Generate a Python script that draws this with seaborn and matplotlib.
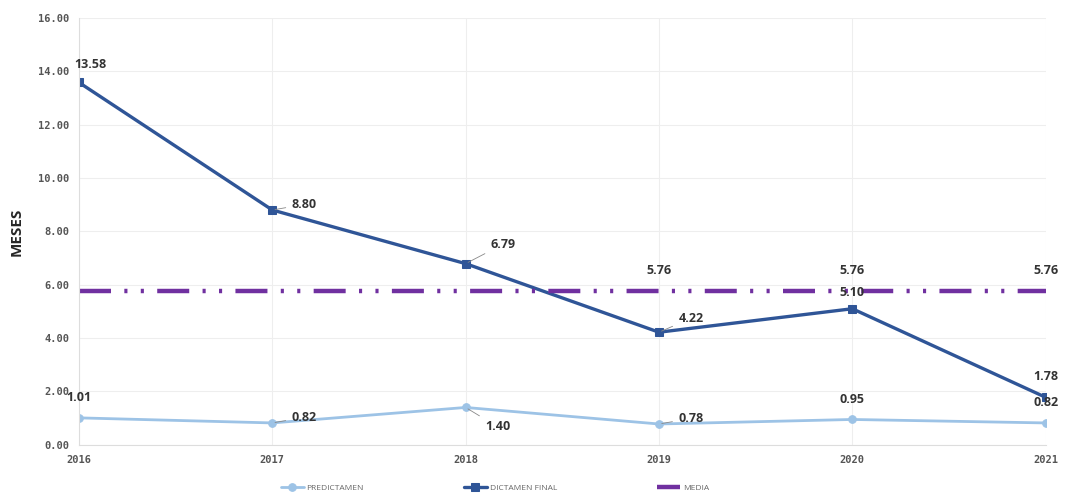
import numpy as np
import pandas as pd
import seaborn as sns
import matplotlib.pyplot as plt

years = [2016, 2017, 2018, 2019, 2020, 2021]
predictamen = [1.01, 0.82, 1.40, 0.78, 0.95, 0.82]
dictamen_final = [13.58, 8.80, 6.79, 4.22, 5.10, 1.78]
media = [5.76, 5.76, 5.76, 5.76, 5.76, 5.76]
y_ticks = [0, 2, 4, 6, 8, 10, 12, 14, 16]

c_pre = "#9DC3E6"
c_dic = "#2F5597"
c_med = "#7030A0"

df = pd.DataFrame({"year": years, "PREDICTAMEN": predictamen,
                   "DICTAMEN FINAL": dictamen_final, "MEDIA": media})

sns.set_style("white")
fig = plt.figure(figsize=(10.67, 4.97), dpi=100)
ax = fig.add_axes([0.074, 0.105, 0.906, 0.859])

sns.lineplot(data=df, x="year", y="PREDICTAMEN", ax=ax, color=c_pre, lw=2.0,
             marker="o", markersize=5.5, markeredgecolor=c_pre, label="PREDICTAMEN")
sns.lineplot(data=df, x="year", y="DICTAMEN FINAL", ax=ax, color=c_dic, lw=2.4,
             marker="s", markersize=5.5, markeredgecolor=c_dic, label="DICTAMEN FINAL")
sns.lineplot(data=df, x="year", y="MEDIA", ax=ax, color=c_med, lw=3.2,
             label="MEDIA")
# dash - dot - dot, in units of line width
ax.lines[-1].set_dashes([7.2, 3.0, 0.7, 3.0, 0.7, 3.0])

ax.set_xlim(years[0], years[-1])
ax.set_ylim(0, 16)
ax.set_yticks(y_ticks)
ax.set_yticklabels([f"{v:.2f}" for v in y_ticks])
ax.set_xticks(years)
ax.set_xticklabels([str(y) for y in years])
for t in ax.get_yticklabels() + ax.get_xticklabels():
    t.set_fontfamily("DejaVu Sans Mono")
    t.set_fontsize(7.5)
    t.set_fontweight("bold")
    t.set_color("#555555")
ax.tick_params(axis="both", length=0, pad=7)
ax.grid(True, color="#EEEEEE", lw=0.8)
for s in ["top", "right"]:
    ax.spines[s].set_visible(False)
ax.spines["left"].set_color("#DDDDDD")
ax.spines["bottom"].set_color("#DDDDDD")
ax.set_xlabel("")
ax.set_ylabel("MESES", fontsize=11, fontweight="bold", family="Open Sans", labelpad=10)

lab = dict(fontsize=9, fontweight="bold", family="Open Sans", color="#333333")
lead_line = dict(arrowstyle="-", color="#888888", lw=0.6)
# dictamen final labels: (dx, dy) in points, leader line or not
dic_off = [(8, 8, False), (14, 4, True), (18, 14, True), (14, 10, True), (0, 7, False), (0, 10, False)]
for x, y, (dx, dy, lead) in zip(years, dictamen_final, dic_off):
    ax.annotate(f"{y:.2f}", (x, y), xytext=(dx, dy), textcoords="offset points",
                ha="left" if lead else "center", va="center" if lead else "bottom", **lab,
                arrowprops=lead_line if lead else None)
pre_off = [(0, 10, False, "center"), (14, 4, True, "left"), (14, -14, True, "left"),
           (14, 4, True, "left"), (0, 10, False, "center"), (0, 10, False, "center")]
for x, y, (dx, dy, lead, ha) in zip(years, predictamen, pre_off):
    ax.annotate(f"{y:.2f}", (x, y), xytext=(dx, dy), textcoords="offset points",
                ha=ha, va="center" if lead else "bottom", **lab,
                arrowprops=lead_line if lead else None)
for x, y in zip(years[3:], media[3:]):
    ax.annotate(f"{y:.2f}", (x, y), xytext=(0, 10), textcoords="offset points",
                ha="center", va="bottom", **lab)

leg = ax.legend(loc="upper center", bbox_to_anchor=(0.43, -0.075), ncol=3, frameon=False,
                handlelength=2.8, handletextpad=0.3, columnspacing=12,
                prop=dict(family="Open Sans", size=6))
for t in leg.get_texts():
    t.set_color("#666666")

fig.savefig("out.png", dpi=100)
